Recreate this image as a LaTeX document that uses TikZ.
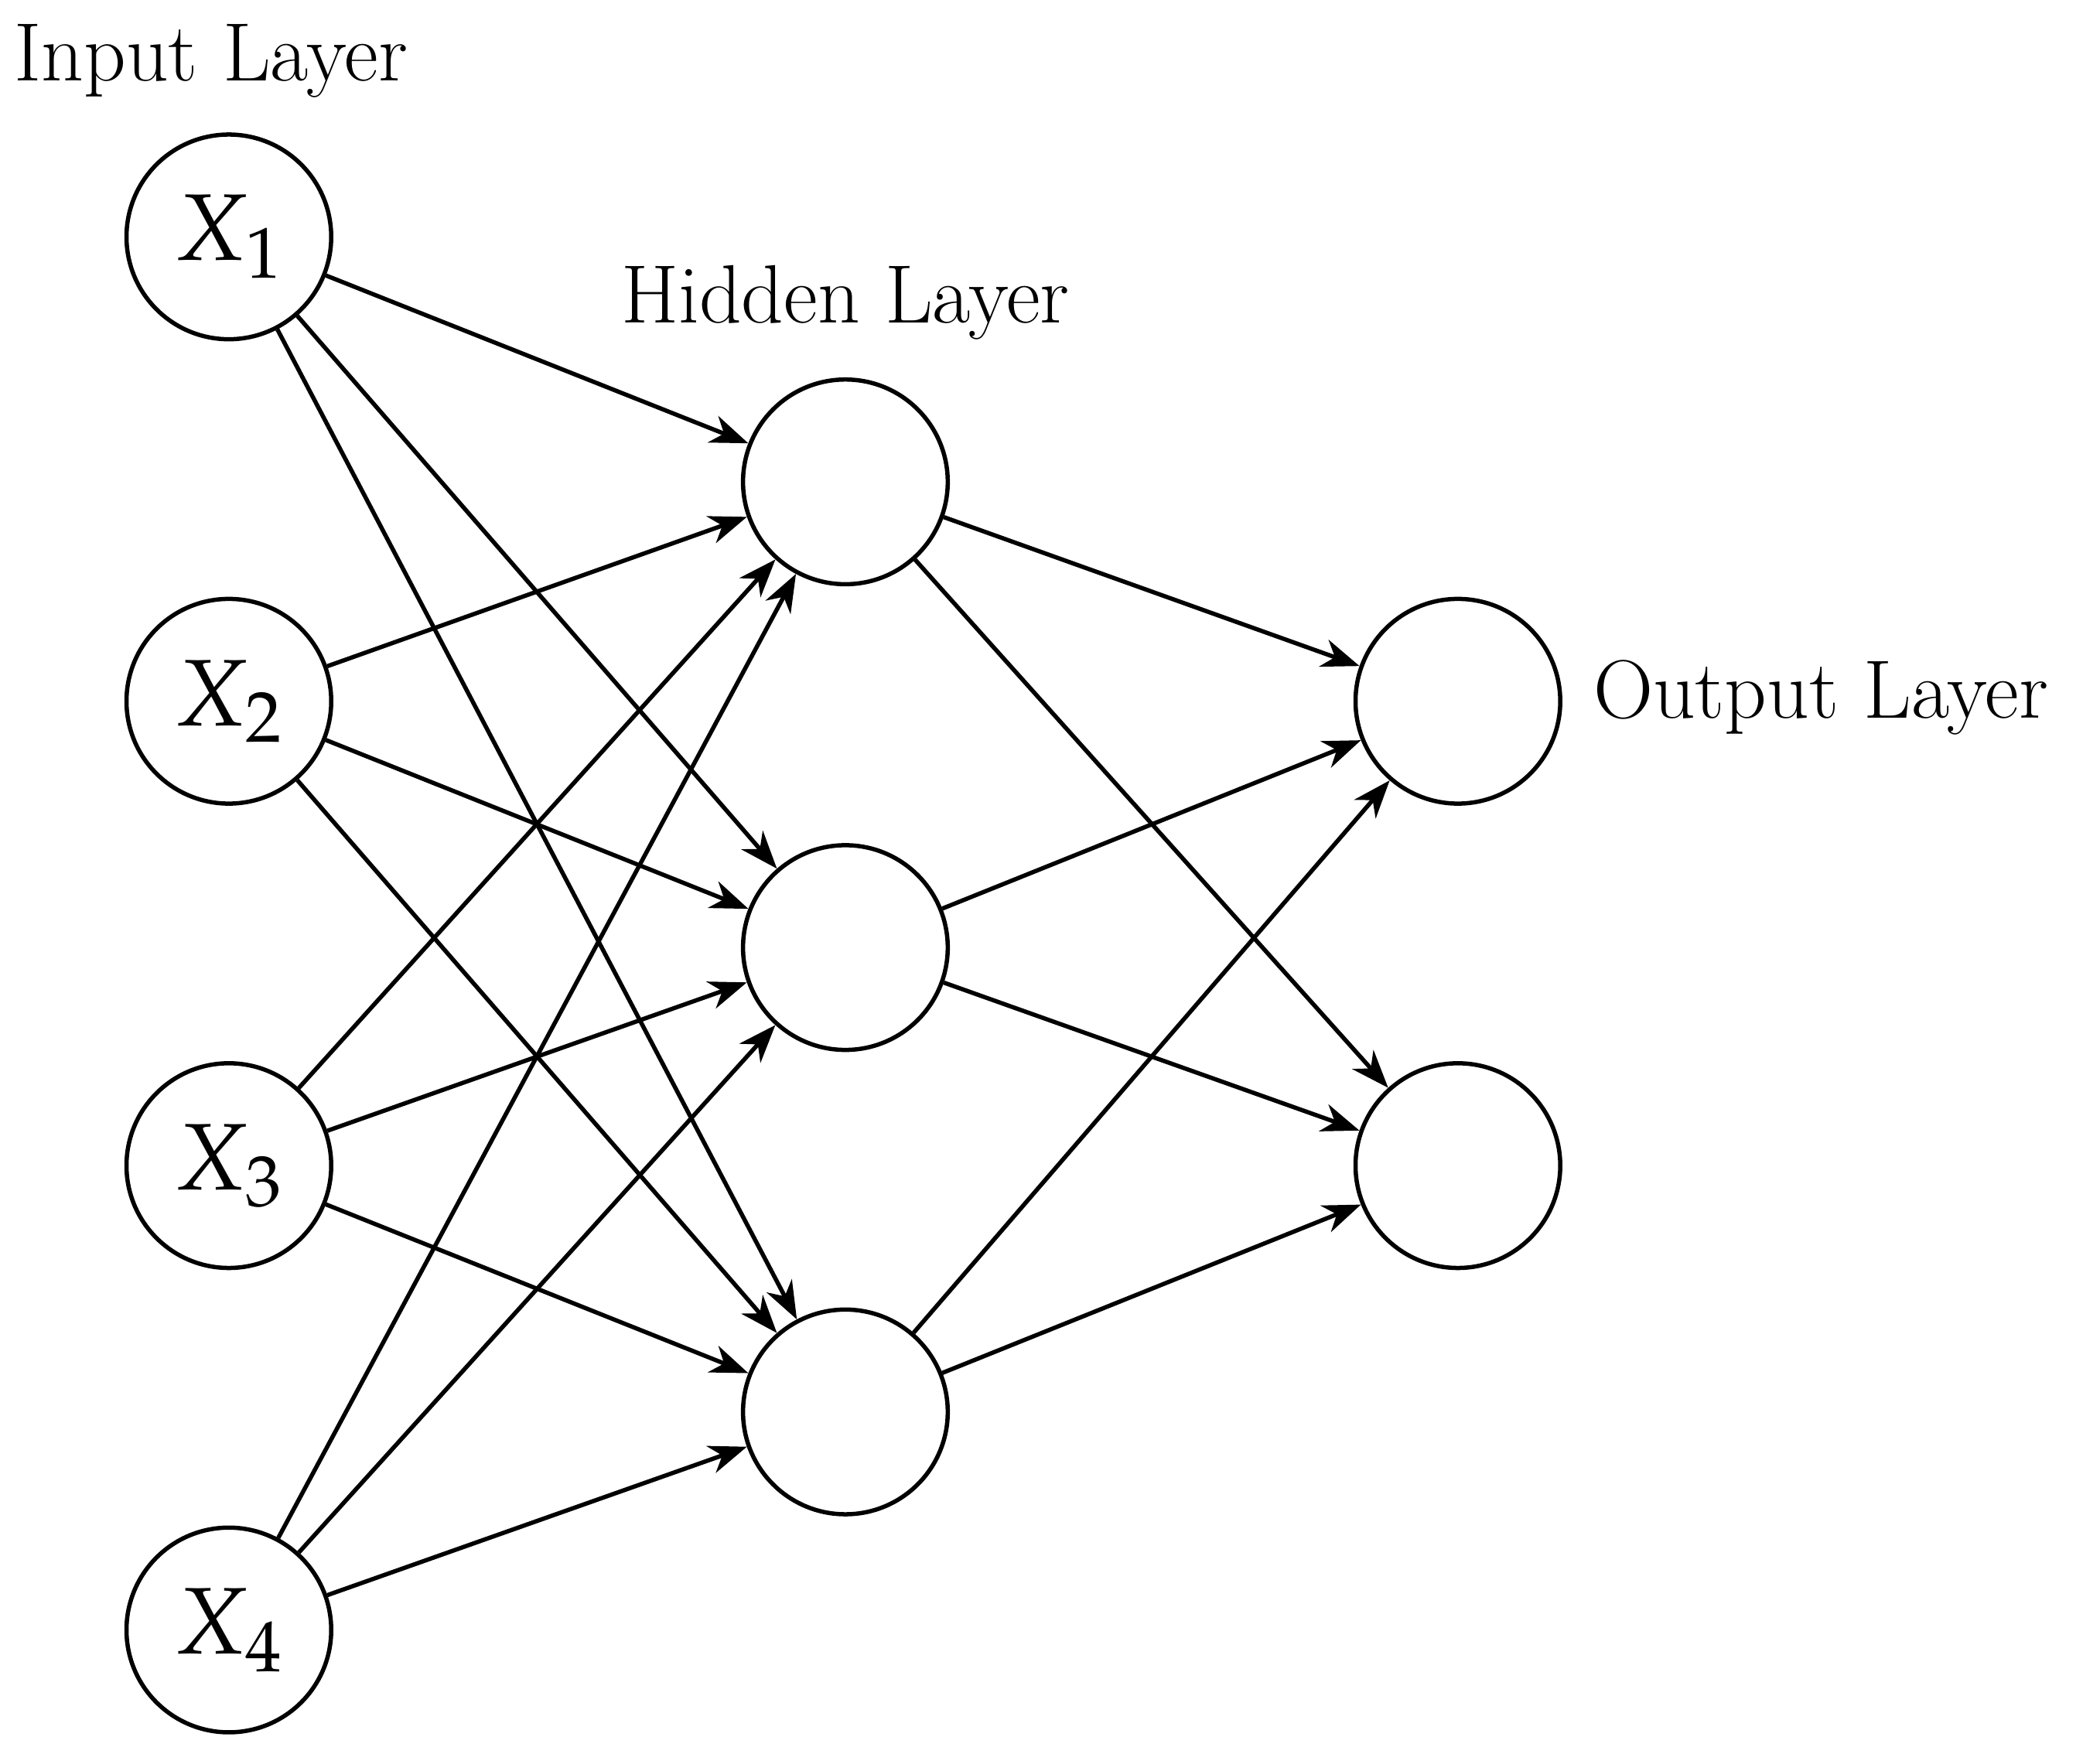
\documentclass[tikz,border=0pt]{standalone}
\usepackage{mathpazo}
\usetikzlibrary{arrows.meta}
\begin{document}
\begin{tikzpicture}[x=0.01cm,y=-0.01cm,
  neuron/.style={circle,draw,line width=0.9pt,minimum size=1.52cm,inner sep=0pt,font=\fontsize{20}{24}\selectfont},
  lbl/.style={font=\fontsize{17.5}{21}\selectfont,inner sep=0pt},
  conn/.style={line width=0.9pt,-{Stealth[length=8pt,width=6pt,inset=2.5pt]}}]
\useasboundingbox (0,0) rectangle (1560,1303);
\node[neuron] (x1) at (170,176) {$X_1$};
\node[neuron] (x2) at (170,521) {$X_2$};
\node[neuron] (x3) at (170,866) {$X_3$};
\node[neuron] (x4) at (170,1211) {$X_4$};
\node[neuron] (h1) at (628,358) {};
\node[neuron] (h2) at (628,704) {};
\node[neuron] (h3) at (628,1049) {};
\node[neuron] (o1) at (1083,521) {};
\node[neuron] (o2) at (1083,866) {};
\node[lbl,anchor=west] (li) at (10,45) {Input Layer};
\node[lbl] (lh) at (628,225) {Hidden Layer};
\node[lbl,anchor=west] (lo) at (1183,518) {Output Layer};
\foreach \i in {x1,x2,x3,x4}{\foreach \j in {h1,h2,h3}{\draw[conn] (\i) -- (\j);}}
\foreach \i in {h1,h2,h3}{\foreach \j in {o1,o2}{\draw[conn] (\i) -- (\j);}}
\end{tikzpicture}
\end{document}
